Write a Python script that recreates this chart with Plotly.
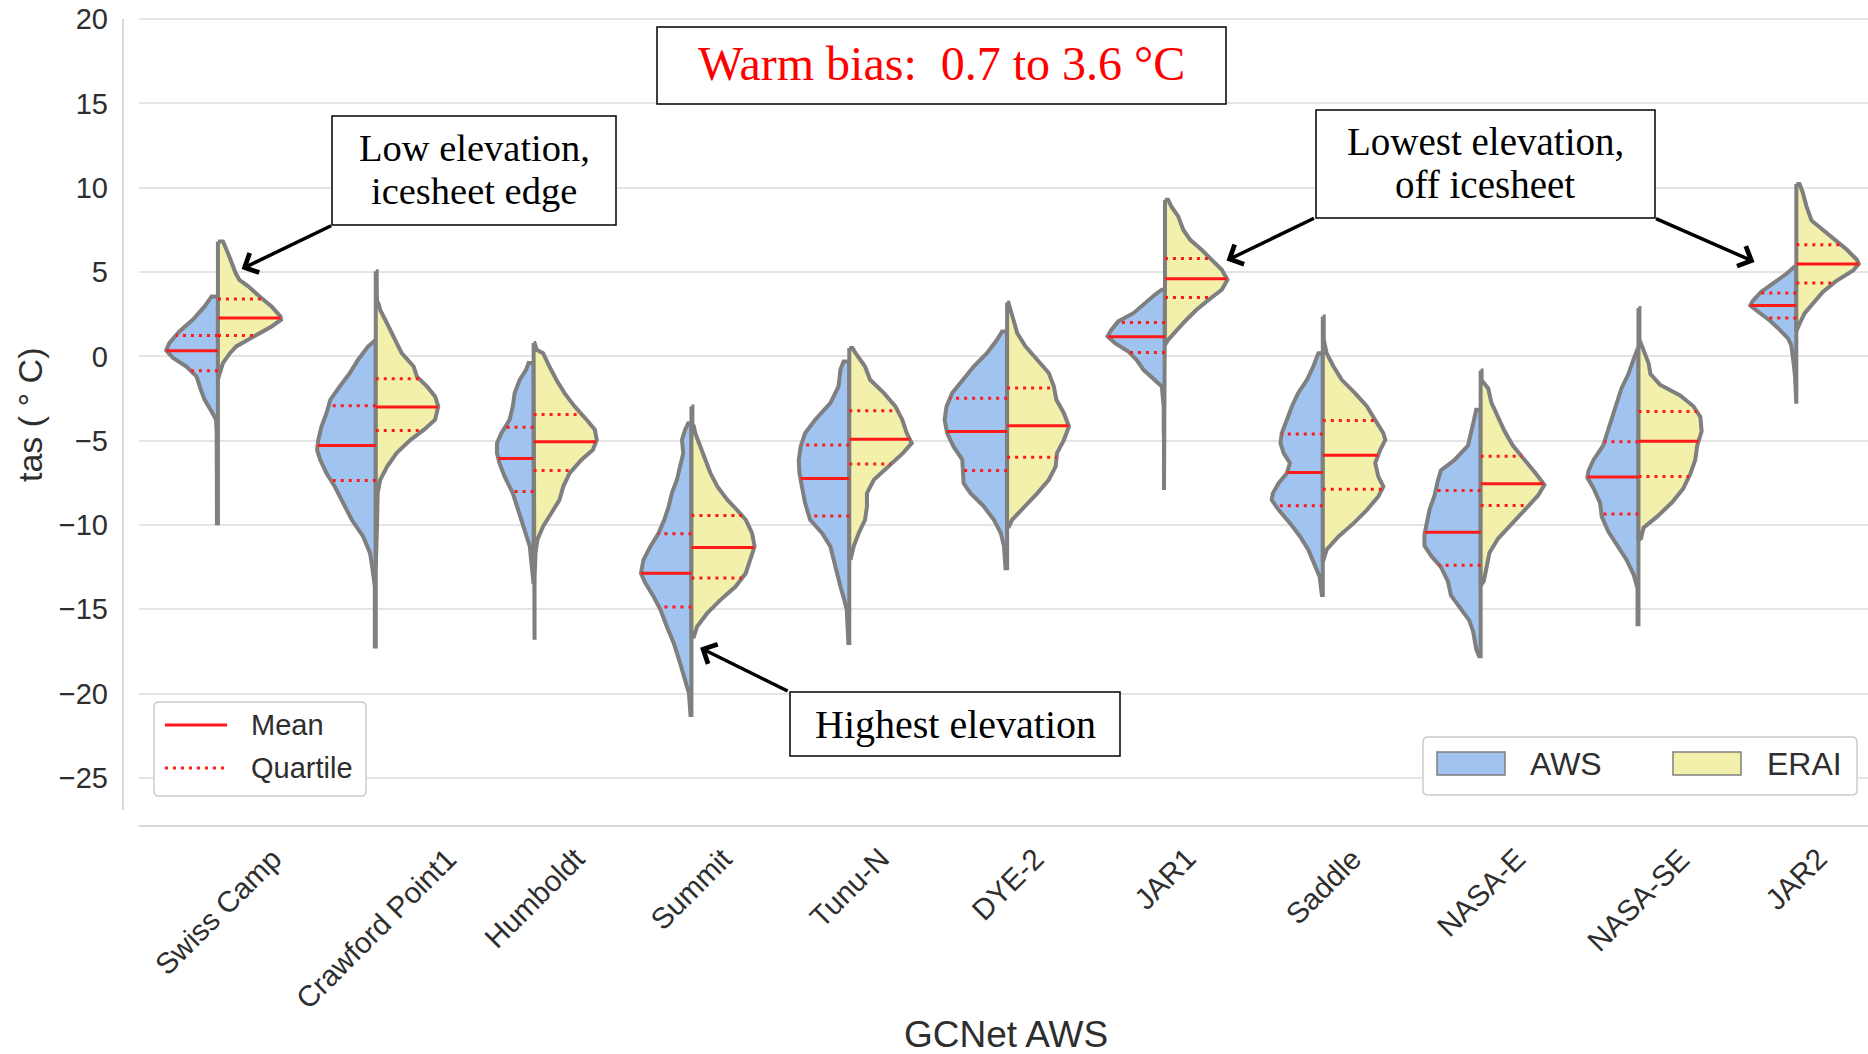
import numpy as np
import plotly.graph_objects as go

# ---------------------------------------------------------------- data
STATIONS = ["Swiss Camp", "Crawford Point1", "Humboldt", "Summit", "Tunu-N", "DYE-2",
            "JAR1", "Saddle", "NASA-E", "NASA-SE", "JAR2"]

Y_TICKS = [-25, -20, -15, -10, -5, 0, 5, 10, 15, 20]

# means and quartiles of near-surface air temperature (°C)
AWS_MEAN = [0.33, -5.28, -6.05, -12.86, -7.24, -4.45, 1.16, -6.89, -10.43, -7.15, 3.02]
AWS_Q_UPPER = [1.24, -2.93, -4.20, -10.52, -5.26, -2.48, 2.01, -4.61, -7.95, -5.07, 3.76]
AWS_Q_LOWER = [-0.86, -7.36, -8.01, -14.87, -9.46, -6.77, 0.23, -8.86, -12.38, -9.35, 2.28]
ERAI_MEAN = [2.27, -3.01, -5.07, -11.33, -4.91, -4.12, 4.60, -5.86, -7.55, -5.03, 5.48]
ERAI_Q_UPPER = [3.40, -1.33, -3.45, -9.44, -3.23, -1.88, 5.80, -3.80, -5.92, -3.27, 6.62]
ERAI_Q_LOWER = [1.24, -4.40, -6.77, -13.15, -6.39, -5.99, 3.49, -7.88, -8.84, -7.13, 4.35]

# kernel density profiles: temperature levels (top to bottom) and relative density
swiss_camp_aws_t = [3.55, 2.96, 2.17, 1.48, 0.78, 0.35, -0.10, -0.60, -1.19, -1.98, -2.58, -3.27, -3.76, -4.5, -6.0, -6.6, -7.2, -9.89]
swiss_camp_aws_d = [0.10, 0.21, 0.40, 0.61, 0.77, 0.82, 0.71, 0.50, 0.34, 0.27, 0.21, 0.10, 0.03, 0.02, 0.02, 0.03, 0.02, 0.015]
swiss_camp_erai_t = [6.81, 6.12, 5.33, 4.94, 4.54, 4.15, 3.55, 2.96, 2.37, 2.17, 1.77, 1.38, 0.98, 0.59, 0.19, -0.40, -0.99, -1.39]
swiss_camp_erai_d = [0.08, 0.16, 0.24, 0.28, 0.34, 0.48, 0.66, 0.85, 0.99, 1.0, 0.85, 0.66, 0.45, 0.29, 0.19, 0.08, 0.03, 0.0]

crawford_aws_t = [0.98, 0.59, -0.20, -0.99, -1.78, -2.58, -3.37, -4.16, -4.95, -5.54, -6.13, -6.93, -7.72, -8.70, -9.69, -10.68, -11.67, -12.66, -13.65, -17.2]
crawford_aws_d = [0.0, 0.12, 0.28, 0.41, 0.57, 0.72, 0.78, 0.86, 0.91, 0.93, 0.88, 0.78, 0.65, 0.51, 0.38, 0.20, 0.09, 0.05, 0.015, 0.015]
crawford_erai_t = [5.04, 4.0, 3.3, 3.06, 2.76, 2.17, 1.18, 0.19, -0.60, -1.19, -1.78, -2.38, -2.97, -3.76, -4.36, -4.95, -5.74, -6.53, -7.32, -8.11, -10.0, -12.46]
crawford_erai_d = [0.015, 0.015, 0.02, 0.05, 0.07, 0.15, 0.28, 0.41, 0.60, 0.65, 0.81, 0.94, 0.99, 0.94, 0.76, 0.55, 0.33, 0.18, 0.07, 0.03, 0.02, 0.015]

humboldt_aws_t = [-0.40, -0.80, -1.39, -2.18, -2.97, -3.76, -4.55, -5.15, -5.74, -6.33, -7.12, -8.11, -9.10, -10.09, -11.27, -12.07, -13.5]
humboldt_aws_d = [0.08, 0.12, 0.22, 0.30, 0.33, 0.38, 0.51, 0.58, 0.58, 0.54, 0.46, 0.33, 0.25, 0.16, 0.06, 0.04, 0.015]
humboldt_erai_t = [0.79, 0.39, 0.19, -0.60, -1.39, -2.18, -2.97, -3.76, -4.35, -4.95, -5.54, -6.13, -6.92, -7.72, -8.51, -9.30, -10.09, -10.88, -11.67, -13.25, -16.81]
humboldt_erai_d = [0.015, 0.05, 0.15, 0.25, 0.36, 0.49, 0.65, 0.84, 0.97, 1.0, 0.94, 0.76, 0.57, 0.47, 0.41, 0.28, 0.15, 0.06, 0.03, 0.015, 0.015]

summit_aws_t = [-3.96, -4.35, -4.95, -5.74, -6.53, -7.32, -8.11, -8.90, -9.69, -10.48, -11.27, -12.07, -12.86, -13.45, -14.24, -15.03, -16.02, -17.01, -18.19, -19.18, -19.97, -21.26]
summit_aws_d = [0.05, 0.10, 0.15, 0.13, 0.18, 0.23, 0.31, 0.36, 0.43, 0.52, 0.65, 0.76, 0.80, 0.73, 0.60, 0.49, 0.39, 0.28, 0.18, 0.10, 0.04, 0.015]
summit_erai_t = [-2.97, -4.0, -4.16, -4.55, -5.34, -6.13, -6.92, -7.72, -8.51, -9.10, -9.69, -10.48, -11.27, -12.07, -12.86, -13.65, -14.44, -15.23, -16.02, -16.61]
summit_erai_d = [0.015, 0.015, 0.04, 0.06, 0.14, 0.22, 0.30, 0.41, 0.57, 0.72, 0.86, 0.96, 1.0, 0.93, 0.86, 0.70, 0.46, 0.25, 0.09, 0.04]

tunu_aws_t = [-0.30, -0.80, -1.78, -2.77, -3.76, -4.55, -5.34, -6.13, -6.92, -7.72, -8.70, -9.69, -10.48, -11.27, -12.07, -12.86, -13.65, -14.44, -15.03, -17.0]
tunu_aws_d = [0.09, 0.14, 0.17, 0.30, 0.54, 0.70, 0.77, 0.80, 0.79, 0.75, 0.70, 0.62, 0.43, 0.30, 0.25, 0.20, 0.14, 0.08, 0.04, 0.015]
tunu_erai_t = [0.49, 0.19, -0.60, -1.39, -2.18, -2.97, -3.76, -4.55, -5.15, -5.74, -6.53, -7.32, -8.11, -8.90, -9.69, -10.48, -11.27, -11.97]
tunu_erai_d = [0.05, 0.10, 0.25, 0.33, 0.55, 0.73, 0.84, 0.91, 0.99, 0.85, 0.62, 0.39, 0.28, 0.28, 0.25, 0.15, 0.07, 0.025]

dye2_aws_t = [1.48, 0.98, 0.19, -0.60, -1.39, -2.18, -2.97, -3.76, -4.55, -5.34, -6.13, -6.92, -7.52, -8.11, -8.90, -9.69, -10.48, -11.27, -12.56]
dye2_aws_d = [0.08, 0.16, 0.32, 0.53, 0.71, 0.87, 0.96, 0.99, 0.95, 0.85, 0.71, 0.69, 0.69, 0.58, 0.37, 0.21, 0.10, 0.05, 0.025]
dye2_erai_t = [3.2, 2.17, 1.38, 0.59, -0.20, -0.99, -1.78, -2.57, -3.37, -4.16, -4.95, -5.74, -6.53, -7.32, -8.11, -8.90, -9.69, -10.09]
dye2_erai_d = [0.02, 0.10, 0.16, 0.29, 0.48, 0.66, 0.74, 0.78, 0.90, 0.98, 0.90, 0.79, 0.77, 0.66, 0.48, 0.29, 0.08, 0.03]

jar1_aws_t = [3.95, 3.65, 3.16, 2.56, 2.07, 1.57, 1.18, 0.78, 0.29, -0.21, -0.80, -1.39, -1.79, -3.0, -4.0, -4.4, -5.0, -7.92]
jar1_aws_d = [0.05, 0.16, 0.32, 0.50, 0.74, 0.85, 0.91, 0.79, 0.58, 0.45, 0.34, 0.16, 0.05, 0.02, 0.03, 0.02, 0.015, 0.015]
jar1_erai_t = [9.29, 8.89, 8.30, 7.51, 6.91, 6.32, 5.73, 5.13, 4.54, 3.95, 3.35, 2.76, 2.17, 1.57, 0.98, 0.68]
jar1_erai_d = [0.05, 0.10, 0.21, 0.29, 0.40, 0.58, 0.74, 0.90, 0.99, 0.90, 0.69, 0.50, 0.34, 0.19, 0.05, 0.0]

saddle_aws_t = [0.19, -0.60, -1.39, -2.18, -2.97, -3.77, -4.56, -5.15, -5.74, -6.33, -6.93, -7.52, -8.11, -8.51, -9.10, -9.89, -10.68, -11.47, -12.27, -13.06, -14.15]
saddle_aws_d = [0.07, 0.15, 0.25, 0.39, 0.49, 0.57, 0.65, 0.67, 0.62, 0.52, 0.57, 0.70, 0.79, 0.81, 0.70, 0.52, 0.36, 0.23, 0.14, 0.05, 0.015]
saddle_erai_t = [2.36, 1.0, 0.59, 0.19, -0.60, -1.39, -2.18, -2.97, -3.77, -4.56, -4.95, -5.54, -6.33, -7.13, -7.72, -8.31, -9.10, -9.89, -10.68, -11.47, -12.07]
saddle_erai_d = [0.015, 0.015, 0.04, 0.06, 0.17, 0.30, 0.51, 0.70, 0.83, 0.96, 0.99, 0.91, 0.83, 0.88, 0.96, 0.88, 0.70, 0.49, 0.25, 0.06, 0.01]

nasa_e_aws_t = [-3.17, -4.01, -5.29, -6.13, -6.77, -7.40, -8.25, -9.10, -9.95, -10.58, -11.22, -11.85, -12.49, -13.33, -14.18, -15.03, -15.66, -16.30, -17.36, -17.78]
nasa_e_aws_d = [0.07, 0.12, 0.20, 0.41, 0.63, 0.68, 0.73, 0.81, 0.86, 0.89, 0.89, 0.78, 0.63, 0.52, 0.47, 0.31, 0.18, 0.12, 0.07, 0.025]
nasa_e_erai_t = [-0.84, -1.4, -1.58, -1.90, -2.74, -3.59, -4.44, -5.29, -6.13, -6.98, -7.62, -8.25, -9.10, -9.95, -10.79, -11.64, -12.49, -13.33, -13.6]
nasa_e_erai_d = [0.015, 0.015, 0.05, 0.12, 0.17, 0.28, 0.38, 0.51, 0.70, 0.88, 1.01, 0.91, 0.70, 0.49, 0.28, 0.14, 0.09, 0.05, 0.0]

nasa_se_aws_t = [0.43, -0.20, -1.05, -1.90, -2.74, -3.59, -4.44, -5.29, -6.13, -6.77, -7.19, -7.83, -8.67, -9.52, -10.37, -11.22, -12.06, -12.91, -13.76, -15.88]
nasa_se_aws_d = [0.015, 0.08, 0.16, 0.27, 0.34, 0.42, 0.48, 0.56, 0.71, 0.79, 0.81, 0.71, 0.61, 0.58, 0.48, 0.34, 0.19, 0.08, 0.015, 0.015]
nasa_se_erai_t = [2.87, 1.0, 0.65, 0.22, -0.41, -1.05, -1.68, -2.32, -2.96, -3.59, -4.44, -5.29, -6.13, -6.98, -7.83, -8.67, -9.52, -10.16, -10.79, -10.9]
nasa_se_erai_d = [0.015, 0.015, 0.05, 0.10, 0.16, 0.19, 0.34, 0.66, 0.87, 0.98, 1.0, 0.93, 0.90, 0.82, 0.71, 0.53, 0.29, 0.08, 0.04, 0.0]

jar2_aws_t = [5.31, 4.88, 4.35, 3.82, 3.29, 3.02, 2.66, 2.13, 1.60, 1.07, 0.65, 0.01, -0.5, -1.2, -2.81]
jar2_aws_d = [0.03, 0.16, 0.37, 0.56, 0.69, 0.73, 0.61, 0.42, 0.27, 0.13, 0.08, 0.05, 0.04, 0.02, 0.015]
jar2_erai_t = [10.22, 9.75, 8.91, 8.06, 7.64, 7.00, 6.36, 5.73, 5.48, 5.09, 4.46, 3.82, 3.19, 2.55, 1.92, 1.49]
jar2_erai_d = [0.05, 0.10, 0.16, 0.24, 0.37, 0.58, 0.79, 0.96, 0.99, 0.90, 0.63, 0.42, 0.27, 0.13, 0.05, 0.0]

AWS_PROFILES = [
    (swiss_camp_aws_t, swiss_camp_aws_d), (crawford_aws_t, crawford_aws_d),
    (humboldt_aws_t, humboldt_aws_d), (summit_aws_t, summit_aws_d),
    (tunu_aws_t, tunu_aws_d), (dye2_aws_t, dye2_aws_d), (jar1_aws_t, jar1_aws_d),
    (saddle_aws_t, saddle_aws_d), (nasa_e_aws_t, nasa_e_aws_d),
    (nasa_se_aws_t, nasa_se_aws_d), (jar2_aws_t, jar2_aws_d),
]
ERAI_PROFILES = [
    (swiss_camp_erai_t, swiss_camp_erai_d), (crawford_erai_t, crawford_erai_d),
    (humboldt_erai_t, humboldt_erai_d), (summit_erai_t, summit_erai_d),
    (tunu_erai_t, tunu_erai_d), (dye2_erai_t, dye2_erai_d), (jar1_erai_t, jar1_erai_d),
    (saddle_erai_t, saddle_erai_d), (nasa_e_erai_t, nasa_e_erai_d),
    (nasa_se_erai_t, nasa_se_erai_d), (jar2_erai_t, jar2_erai_d),
]

# ---------------------------------------------------------------- style
HALF = 0.4                      # half width of a violin, in category units
OUTLINE = "#7f7f7f"
AWS_FILL = "#a0c4ef"
ERAI_FILL = "#f2f0ab"
RED = "#ff1a1a"
TEXT = "#2e2e2e"
SANS = "Liberation Sans"
SERIF = "Liberation Serif"
DOT = "3px,5px"

W, H = 1868, 1054
M_L, M_R, M_T, M_B = 139, 0, 14, 244
X_RANGE = [-0.5, -0.5 + (W - M_L - M_R) / 157.84]
Y_RANGE = [-26.9, 20.3]


def px(xp):
    """pixel column -> paper x"""
    return (xp - M_L) / (W - M_L - M_R)


def py(yp):
    """pixel row -> paper y"""
    return (H - M_B - yp) / (H - M_T - M_B)


fig = go.Figure()


def half_violin(i, prof, side, fill):
    t = np.asarray(prof[0], float)
    w = np.asarray(prof[1], float) * HALF
    xs = np.concatenate([[i], i + side * w, [i], [i]])
    ys = np.concatenate([[t[0]], t, [t[-1]], [t[0]]])
    fig.add_trace(go.Scatter(x=xs, y=ys, mode="lines", fill="toself", fillcolor=fill,
                             line=dict(color=OUTLINE, width=4), hoverinfo="skip",
                             showlegend=False))


def width_at(prof, val):
    t = np.asarray(prof[0], float)[::-1]
    d = np.asarray(prof[1], float)[::-1]
    return float(np.interp(val, t, d)) * HALF


mean_x, mean_y, quart_x, quart_y = [], [], [], []

for i in range(len(STATIONS)):
    half_violin(i, AWS_PROFILES[i], -1, AWS_FILL)
    half_violin(i, ERAI_PROFILES[i], +1, ERAI_FILL)
    for prof, side, m, qs in [
        (AWS_PROFILES[i], -1, AWS_MEAN[i], (AWS_Q_UPPER[i], AWS_Q_LOWER[i])),
        (ERAI_PROFILES[i], +1, ERAI_MEAN[i], (ERAI_Q_UPPER[i], ERAI_Q_LOWER[i])),
    ]:
        wm = width_at(prof, m)
        mean_x += [i, i + side * wm, None]
        mean_y += [m, m, None]
        for q in qs:
            wq = width_at(prof, q)
            quart_x += [i, i + side * wq, None]
            quart_y += [q, q, None]

fig.add_trace(go.Scatter(x=mean_x, y=mean_y, mode="lines", line=dict(color=RED, width=3),
                         hoverinfo="skip", showlegend=False))
fig.add_trace(go.Scatter(x=quart_x, y=quart_y, mode="lines",
                         line=dict(color=RED, width=3, dash=DOT),
                         hoverinfo="skip", showlegend=False))

shapes = []
annotations = []

# offset spines
shapes.append(dict(type="line", xref="paper", yref="y", x0=px(123), x1=px(123),
                   y0=20, y1=Y_RANGE[0], line=dict(color="#cccccc", width=1.5)))
shapes.append(dict(type="line", xref="paper", yref="paper", x0=0, x1=1,
                   y0=py(826), y1=py(826), line=dict(color="#cccccc", width=1.5)))

# category labels under the axis
for i, name in enumerate(STATIONS):
    annotations.append(dict(x=i, y=0, xref="x", yref="paper", yshift=-29, text=name,
                            textangle=-45, xanchor="center", yanchor="top", showarrow=False,
                            font=dict(family=SANS, size=29.5, color=TEXT)))

annotations.append(dict(x=px(1006), y=py(1034), xref="paper", yref="paper", text="GCNet AWS",
                        showarrow=False, xanchor="center", yanchor="middle",
                        font=dict(family=SANS, size=37, color=TEXT)))
annotations.append(dict(x=px(30), y=py(414), xref="paper", yref="paper", text="tas ( ° C)",
                        textangle=-90, showarrow=False, xanchor="center", yanchor="middle",
                        font=dict(family=SANS, size=34, color=TEXT)))


def rounded_box(x0, y0, x1, y1, r=5):
    rx = r / (W - M_L - M_R)
    ry = r / (H - M_T - M_B)
    X0, X1, Y0, Y1 = px(x0), px(x1), py(y1), py(y0)
    return (f"M{X0 + rx},{Y0} L{X1 - rx},{Y0} Q{X1},{Y0} {X1},{Y0 + ry} "
            f"L{X1},{Y1 - ry} Q{X1},{Y1} {X1 - rx},{Y1} L{X0 + rx},{Y1} "
            f"Q{X0},{Y1} {X0},{Y1 - ry} L{X0},{Y0 + ry} Q{X0},{Y0} {X0 + rx},{Y0} Z")


# legend: statistic lines
shapes.append(dict(type="path", xref="paper", yref="paper", path=rounded_box(154, 702, 366, 796),
                   fillcolor="white", line=dict(color="#cccccc", width=1.5), layer="above"))
shapes.append(dict(type="line", xref="paper", yref="paper", x0=px(165), x1=px(227),
                   y0=py(725), y1=py(725), line=dict(color=RED, width=3), layer="above"))
shapes.append(dict(type="line", xref="paper", yref="paper", x0=px(165), x1=px(227),
                   y0=py(768), y1=py(768), line=dict(color=RED, width=3, dash=DOT), layer="above"))
for label, yy in [("Mean", 725), ("Quartile", 768)]:
    annotations.append(dict(x=px(249), y=py(yy), xref="paper", yref="paper", text=label,
                            showarrow=False, xanchor="left", yanchor="middle",
                            font=dict(family=SANS, size=29, color=TEXT)))

# legend: data sources
shapes.append(dict(type="path", xref="paper", yref="paper", path=rounded_box(1423, 737, 1857, 795),
                   fillcolor="white", line=dict(color="#cccccc", width=1.5), layer="above"))
for label, fill, x0, x1, xt in [("AWS", AWS_FILL, 1437, 1505, 1528),
                                ("ERAI", ERAI_FILL, 1673, 1741, 1765)]:
    shapes.append(dict(type="rect", xref="paper", yref="paper", x0=px(x0), x1=px(x1),
                       y0=py(775), y1=py(752), fillcolor=fill,
                       line=dict(color=OUTLINE, width=1.5), layer="above"))
    annotations.append(dict(x=px(xt), y=py(764), xref="paper", yref="paper", text=label,
                            showarrow=False, xanchor="left", yanchor="middle",
                            font=dict(family=SANS, size=32, color=TEXT)))

# call-out boxes
BOXES = [
    (657, 27, 1226, 104),     # warm bias
    (332, 116, 616, 225),     # low elevation
    (1316, 110, 1655, 218),   # lowest elevation
    (790, 692, 1120, 756),    # highest elevation
]
for x0, y0, x1, y1 in BOXES:
    shapes.append(dict(type="rect", xref="paper", yref="paper", x0=px(x0), x1=px(x1),
                       y0=py(y1), y1=py(y0), fillcolor="white",
                       line=dict(color="black", width=1.5), layer="above"))

CALLOUTS = [
    ("Warm bias:&nbsp; 0.7 to 3.6 °C", 941, 63, 48, "#ff0000"),
    ("Low elevation,", 474, 148, 38.5, "black"),
    ("icesheet edge", 474, 191, 38.5, "black"),
    ("Lowest elevation,", 1485, 141, 39, "black"),
    ("off icesheet", 1485, 185, 39, "black"),
    ("Highest elevation", 955, 724, 40, "black"),
]
for text, xx, yy, size, color in CALLOUTS:
    annotations.append(dict(x=px(xx), y=py(yy), xref="paper", yref="paper", text=text,
                            showarrow=False, xanchor="center", yanchor="middle",
                            font=dict(family=SERIF, size=size, color=color)))

# arrows: head on the violin (station index, °C), tail offset in pixels
ARROWS = [
    (0.15, 5.18, 91, -44),
    (3.055, -17.28, 89, 44),
    (6.39, 5.68, 89, -43),
    (9.735, 5.60, -100, -44),
]
for xh, yh, dx, dy in ARROWS:
    annotations.append(dict(x=xh, y=yh, xref="x", yref="y", ax=dx, ay=dy, text="",
                            showarrow=True, arrowhead=4, arrowsize=1.2, arrowwidth=3.5,
                            arrowcolor="black", standoff=0, startstandoff=0))

fig.update_layout(
    width=W, height=H, autosize=False,
    margin=dict(l=M_L, r=M_R, t=M_T, b=M_B),
    plot_bgcolor="white", paper_bgcolor="white", showlegend=False,
    xaxis=dict(range=X_RANGE, showgrid=False, zeroline=False, showline=False,
               showticklabels=False, ticks="", fixedrange=True),
    yaxis=dict(range=Y_RANGE, tickvals=Y_TICKS,
               ticktext=[str(v).replace("-", "\u2212") for v in Y_TICKS],
               showgrid=True, gridcolor="#e4e4e4", gridwidth=1.5, zeroline=False,
               showline=False, ticks="", ticklabelstandoff=30,
               tickfont=dict(family=SANS, size=29, color=TEXT), fixedrange=True),
    shapes=shapes, annotations=annotations,
)

fig.write_html("out.html")
